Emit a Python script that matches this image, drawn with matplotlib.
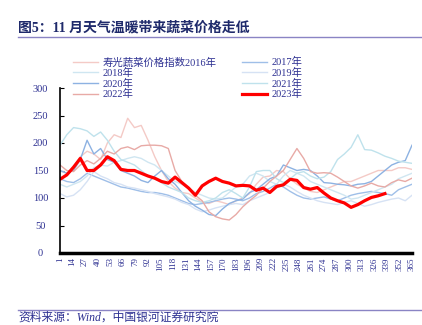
import numpy as np
import matplotlib
matplotlib.use("Agg")
import matplotlib.pyplot as plt

plt.rcParams['font.family'] = ['Liberation Serif', 'Noto Sans CJK SC']

# sample days (every 7th day of the year)
days = list(range(1, 365, 7)) + [365]

price_2016 = [150, 145, 155, 175, 185, 180, 170, 200, 215, 210, 245, 228, 232, 205, 175, 150, 130, 118,
              110, 108, 100, 92, 90, 95, 92, 88, 95, 100, 108, 125, 138, 140, 150, 148, 135, 125, 118, 112,
              110, 115, 120, 125, 130, 130, 135, 140, 145, 150, 150, 150, 155, 155, 152]
price_2017 = [135, 130, 128, 135, 145, 140, 135, 130, 125, 120, 118, 115, 112, 110, 110, 108, 105, 100,
              95, 90, 88, 90, 92, 95, 98, 100, 98, 95, 100, 108, 112, 118, 125, 120, 112, 105, 100, 98,
              100, 102, 98, 95, 100, 105, 108, 110, 112, 110, 108, 105, 115, 120, 125]
price_2018 = [125, 120, 125, 130, 140, 155, 160, 158, 165, 168, 172, 175, 172, 165, 160, 150, 140, 130,
              125, 118, 110, 105, 100, 98, 100, 110, 120, 125, 140, 145, 140, 130, 125, 140, 150, 145, 140, 130,
              125, 120, 115, 110, 105, 98, 100, 105, 110, 115, 120, 125, 135, 140, 145]
price_2019 = [108, 102, 105, 115, 130, 148, 140, 135, 128, 125, 120, 118, 115, 112, 108, 105, 102, 98,
              92, 88, 80, 75, 78, 82, 85, 88, 90, 88, 95, 100, 105, 110, 118, 125, 120, 112, 105, 100,
              95, 92, 90, 88, 92, 95, 90, 85, 88, 92, 95, 98, 100, 95, 105]
price_2020 = [150, 145, 150, 170, 205, 180, 190, 170, 165, 150, 145, 140, 132, 128, 140, 150, 135, 125,
              110, 95, 85, 78, 70, 68, 80, 90, 95, 98, 110, 115, 125, 135, 140, 160, 155, 150, 152, 150,
              140, 128, 127, 125, 124, 122, 125, 126, 130, 140, 150, 160, 165, 168, 196]
price_2021 = [196, 215, 228, 226, 222, 212, 220, 205, 185, 170, 165, 160, 150, 140, 135, 128, 120, 115,
              110, 100, 95, 92, 95, 100, 110, 115, 108, 100, 120, 148, 150, 150, 135, 128, 135, 145, 148, 140,
              135, 138, 148, 170, 180, 192, 215, 188, 187, 182, 176, 172, 167, 165, 163]
price_2022 = [160, 150, 148, 160, 168, 162, 172, 185, 180, 190, 193, 188, 195, 196, 196, 195, 190, 150,
              130, 118, 105, 95, 75, 66, 62, 60, 70, 84, 95, 105, 118, 130, 140, 150, 170, 190, 172, 148,
              145, 146, 145, 138, 130, 122, 118, 122, 127, 122, 120, 128, 133, 130, 136]
price_2023 = [134, 142, 156, 172, 150, 150, 160, 175, 168, 152, 150, 150, 145, 140, 136, 130, 127, 138,
              128, 118, 105, 122, 130, 136, 130, 127, 122, 123, 122, 114, 118, 110, 121, 124, 134, 132, 119, 116,
              119, 109, 100, 95, 91, 83, 88, 95, 101, 104, 108]

series = [
    ('寿光蔬菜价格指数2016年', price_2016, '#f4cac6', 1.0),
    ('2017年', price_2017, '#9fbfe8', 1.0),
    ('2018年', price_2018, '#cfe6f1', 1.0),
    ('2019年', price_2019, '#d6e2f4', 1.0),
    ('2020年', price_2020, '#8db2e2', 1.0),
    ('2021年', price_2021, '#bfe2ec', 1.0),
    ('2022年', price_2022, '#e8aaa6', 1.0),
    ('2023年', price_2023, '#ff0000', 2.3),
]

navy = '#2e3192'

fig = plt.figure(figsize=(4.22, 3.25), dpi=100)
ax = fig.add_axes([60 / 422, 1 - 253 / 325, 352 / 422, 165 / 325])

handles = {}
for label, vals, color, lw in series:
    h, = ax.plot(days[:len(vals)], vals, color=color, lw=lw, label=label)
    handles[label] = h

ax.set_xlim(1, 365)
ax.set_ylim(0, 300)
ax.set_yticks(range(0, 301, 50))
ax.set_xticks(range(1, 366, 13))
ax.tick_params(axis='x', length=0, labelsize=6.5, labelcolor=navy, rotation=90, pad=3)
ax.tick_params(axis='y', direction='in', length=3, width=0.8, labelsize=7.5, labelcolor=navy, pad=14)
for lab in ax.get_yticklabels():
    lab.set_horizontalalignment('center')
ax.spines['top'].set_visible(False)
ax.spines['right'].set_visible(False)
ax.spines['left'].set_linewidth(1.2)
ax.spines['bottom'].set_linewidth(2.5)

order = ['寿光蔬菜价格指数2016年', '2018年', '2020年', '2022年',
         '2017年', '2019年', '2021年', '2023年']
leg = fig.legend([handles[k] for k in order], order, ncol=2, frameon=False,
                 loc='upper left', bbox_to_anchor=(68 / 422, 1 - 52 / 325),
                 fontsize=7.5, labelspacing=0.05, handlelength=2.4, handletextpad=0.4,
                 columnspacing=2.45, borderpad=0)
for t in leg.get_texts():
    t.set_color(navy)

fig.text(18 / 422, 1 - 28 / 325, '图5：11 月天气温暖带来蔬菜价格走低', fontsize=10,
         fontweight='bold', color='#1f2a6b', va='center', ha='left')
fig.add_artist(plt.Line2D([18 / 422, 1], [1 - 37 / 325] * 2, color='#8a84c4', lw=1.0))
fig.add_artist(plt.Line2D([18 / 422, 1], [1 - 310 / 325] * 2, color='#8a84c4', lw=1.0))
fig.text(18 / 422, 1 - 318 / 325, '资料来源：Wind，中国银河证券研究院', fontsize=8.5,
         style='italic', color=navy, va='center', ha='left')

fig.savefig('out.png', dpi=100)
